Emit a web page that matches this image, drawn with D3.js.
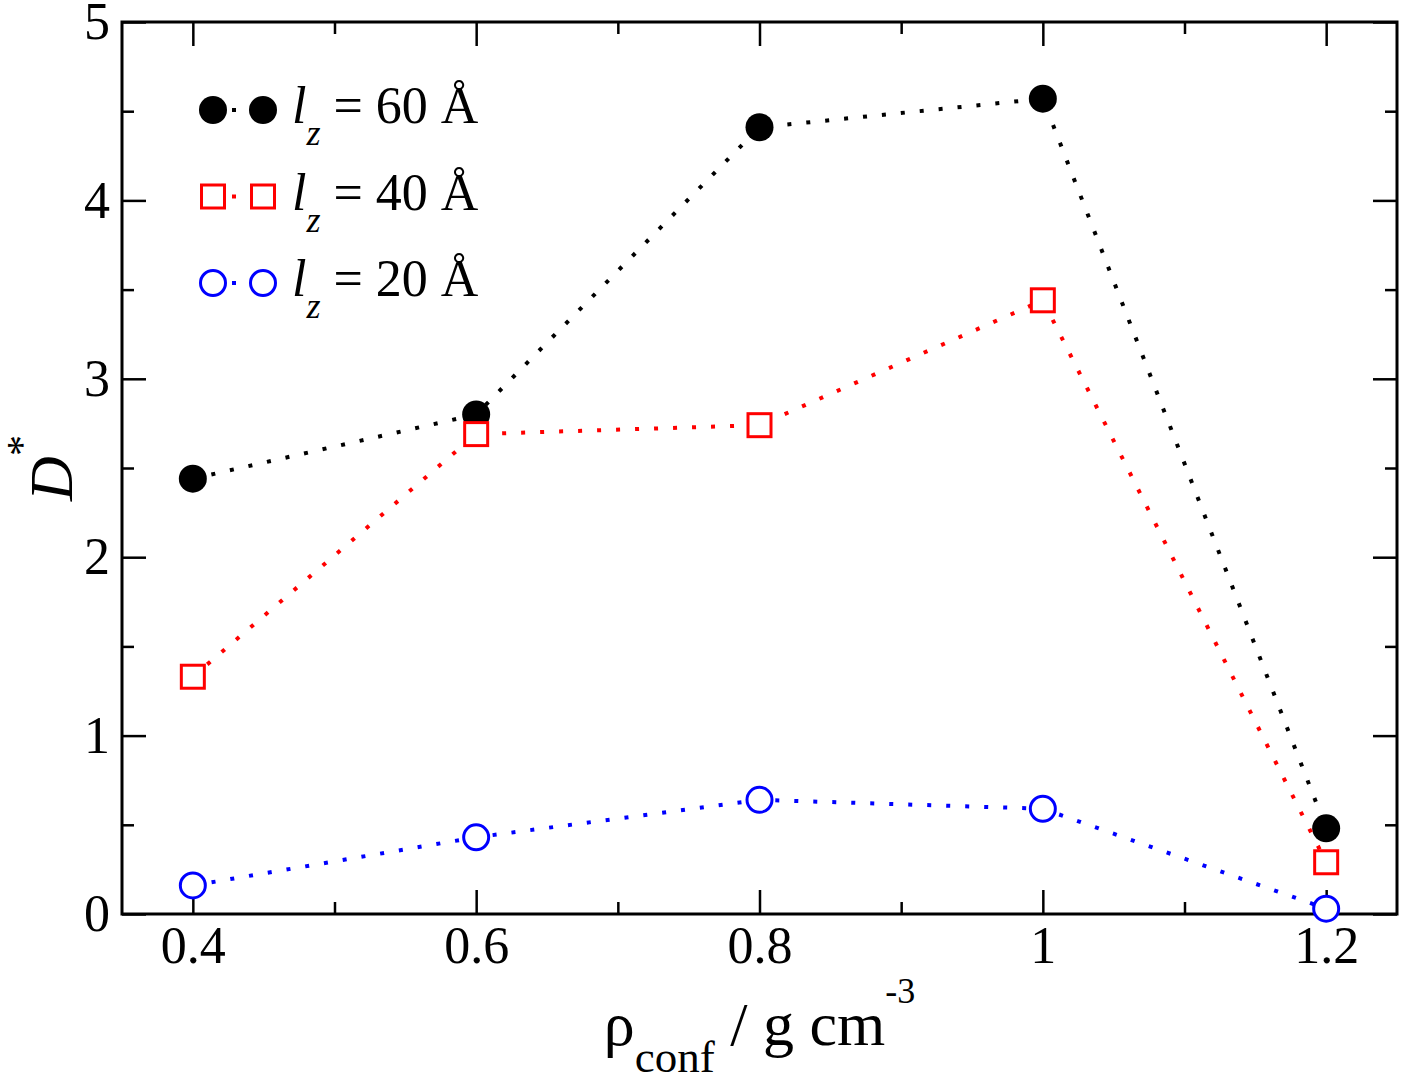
<!DOCTYPE html>
<html>
<head>
<meta charset="utf-8">
<script src="https://cdn.jsdelivr.net/npm/d3@7"></script>
<style>
  body { margin: 0; background: #fff; }
  text { font-family: "Liberation Serif", "Times New Roman", serif; }
</style>
</head>
<body>
<div id="chart"></div>
<script>
// data
const density = [0.4, 0.6, 0.8, 1.0, 1.2];
const d60 = [2.44, 2.80, 4.41, 4.57, 0.48];
const d40 = [1.33, 2.69, 2.74, 3.44, 0.29];
const d20 = [0.16, 0.43, 0.64, 0.59, 0.03];
const seriesNames = ["60", "40", "20"];
const xTicks = [0.4, 0.6, 0.8, 1.0, 1.2];
const xMinor = [0.5, 0.7, 0.9, 1.1];
const yTicks = [0, 1, 2, 3, 4, 5];
const yMinor = [0.5, 1.5, 2.5, 3.5, 4.5];

const width = 1403, height = 1075;
const margin = { top: 22, right: 6, bottom: 161, left: 122 };

const svg = d3.select('#chart')
  .append('svg')
  .attr('width', width)
  .attr('height', height);

const x = d3.scaleLinear()
  .domain([0.35, 1.25])
  .range([margin.left, width - margin.right]);

const y = d3.scaleLinear()
  .domain([0, 5])
  .range([height - margin.bottom, margin.top]);

const fmt = d => String(+d.toFixed(1));

// axes, ticks pointing inward on all four sides
function styleAxis(g) {
  g.select('.domain').remove();
  g.selectAll('.tick line').attr('stroke', '#000').attr('stroke-width', 2.5);
  g.selectAll('.tick text').attr('font-size', 52).attr('fill', '#000')
    .style('font-family', '"Liberation Serif", serif');
}

svg.append('g')
  .attr('transform', `translate(0,${y(0)})`)
  .call(d3.axisBottom(x).tickValues(xTicks).tickFormat(fmt).tickSizeInner(-24).tickSizeOuter(0).tickPadding(12))
  .call(styleAxis);
svg.append('g')
  .attr('transform', `translate(0,${y(0)})`)
  .call(d3.axisBottom(x).tickValues(xMinor).tickFormat('').tickSizeInner(-12).tickSizeOuter(0))
  .call(styleAxis);
svg.append('g')
  .attr('transform', `translate(0,${y(5)})`)
  .call(d3.axisTop(x).tickValues(xTicks).tickFormat('').tickSizeInner(-24).tickSizeOuter(0))
  .call(styleAxis);
svg.append('g')
  .attr('transform', `translate(0,${y(5)})`)
  .call(d3.axisTop(x).tickValues(xMinor).tickFormat('').tickSizeInner(-12).tickSizeOuter(0))
  .call(styleAxis);

svg.append('g')
  .attr('transform', `translate(${x(0.35)},0)`)
  .call(d3.axisLeft(y).tickValues(yTicks).tickFormat(d3.format('d')).tickSizeInner(-24).tickSizeOuter(0).tickPadding(12))
  .call(styleAxis);
svg.append('g')
  .attr('transform', `translate(${x(0.35)},0)`)
  .call(d3.axisLeft(y).tickValues(yMinor).tickFormat('').tickSizeInner(-12).tickSizeOuter(0))
  .call(styleAxis);
svg.append('g')
  .attr('transform', `translate(${x(1.25)},0)`)
  .call(d3.axisRight(y).tickValues(yTicks).tickFormat('').tickSizeInner(-24).tickSizeOuter(0))
  .call(styleAxis);
svg.append('g')
  .attr('transform', `translate(${x(1.25)},0)`)
  .call(d3.axisRight(y).tickValues(yMinor).tickFormat('').tickSizeInner(-12).tickSizeOuter(0))
  .call(styleAxis);

// frame
svg.append('rect')
  .attr('x', x(0.35)).attr('y', y(5))
  .attr('width', x(1.25) - x(0.35))
  .attr('height', y(0) - y(5))
  .attr('fill', 'none')
  .attr('stroke', '#000')
  .attr('stroke-width', 3);

// series
const series = [
  { name: seriesNames[0], values: d60, color: '#000', shape: 'disc' },
  { name: seriesNames[1], values: d40, color: '#ff0000', shape: 'square' },
  { name: seriesNames[2], values: d20, color: '#0000ff', shape: 'circle' }
];

const line = d3.line().x(d => x(d[0])).y(d => y(d[1]));

function drawMarker(g, shape, color, cx, cy) {
  if (shape === 'disc') {
    g.append('circle').attr('cx', cx).attr('cy', cy).attr('r', 14).attr('fill', color);
  } else if (shape === 'square') {
    g.append('rect').attr('x', cx - 11.5).attr('y', cy - 11.5)
      .attr('width', 23).attr('height', 23)
      .attr('fill', '#fff').attr('stroke', color).attr('stroke-width', 3);
  } else {
    g.append('circle').attr('cx', cx).attr('cy', cy).attr('r', 12.5)
      .attr('fill', '#fff').attr('stroke', color).attr('stroke-width', 3);
  }
}

series.forEach(s => {
  const pts = density.map((d, i) => [d, s.values[i]]);
  const g = svg.append('g');
  g.append('path')
    .attr('d', line(pts))
    .attr('fill', 'none')
    .attr('stroke', s.color)
    .attr('stroke-width', 4)
    .attr('stroke-dasharray', '4,15');
  pts.forEach(p => drawMarker(g, s.shape, s.color, x(p[0]), y(p[1])));
});

// legend
const legend = svg.append('g').attr('transform', 'translate(213,110)');
series.forEach((s, i) => {
  const row = legend.append('g').attr('transform', `translate(0,${i * 86.5})`);
  row.append('line')
    .attr('x1', 0).attr('x2', 50).attr('y1', 0).attr('y2', 0)
    .attr('stroke', s.color).attr('stroke-width', 4)
    .attr('stroke-dasharray', '4,15');
  drawMarker(row, s.shape, s.color, 0, 0);
  drawMarker(row, s.shape, s.color, 50, 0);
  const t = row.append('text')
    .attr('x', 79).attr('y', 13)
    .attr('font-size', 52).attr('fill', '#000');
  t.append('tspan').attr('font-style', 'italic').text('l');
  t.append('tspan').attr('font-style', 'italic').attr('font-size', 36).attr('dy', 22).text('z');
  t.append('tspan').attr('dy', -22).text(` = ${s.name} Å`);
});

// axis titles
const xt = svg.append('text')
  .attr('x', (x(0.35) + x(1.25)) / 2)
  .attr('y', 1045)
  .attr('text-anchor', 'middle')
  .attr('font-size', 62).attr('fill', '#000');
xt.append('tspan').text('ρ');
xt.append('tspan').attr('font-size', 45).attr('dy', 27).text('conf');
xt.append('tspan').attr('dy', -27).text(' / g cm');
xt.append('tspan').attr('font-size', 36).attr('dy', -42).text('-3');

const yt = svg.append('text')
  .attr('transform', `translate(72,${(y(0) + y(5)) / 2}) rotate(-90)`)
  .attr('text-anchor', 'middle')
  .attr('font-size', 62).attr('fill', '#000');
yt.append('tspan').attr('font-style', 'italic').text('D');
yt.append('tspan').attr('font-size', 42).attr('dy', -36).text('*');
</script>
</body>
</html>
